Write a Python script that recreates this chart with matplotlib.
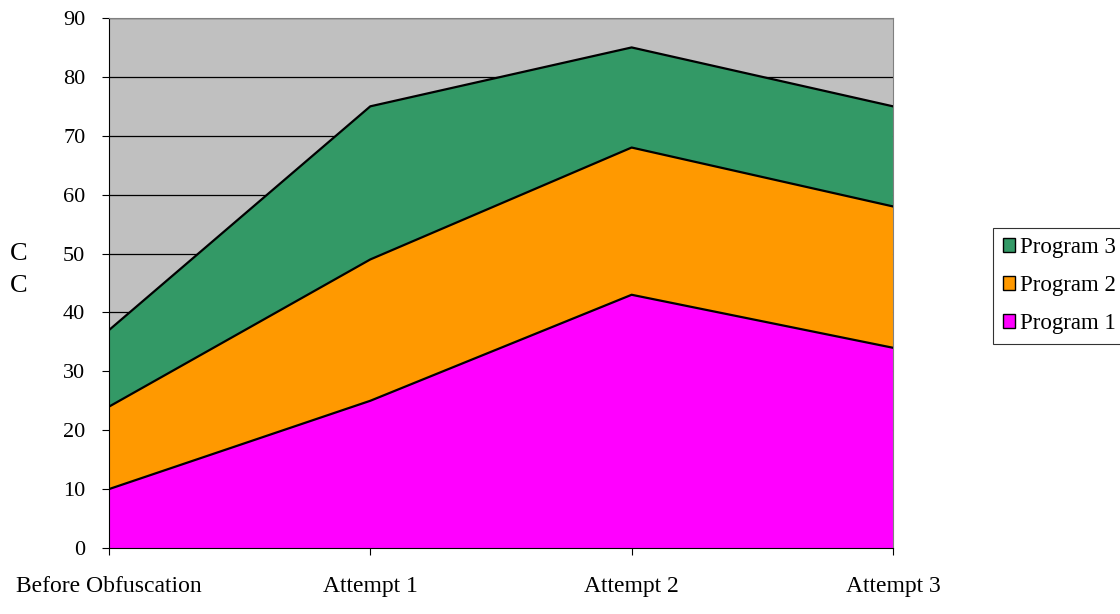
import matplotlib.pyplot as plt
from matplotlib.patches import Patch

# Datos
etapas = ['Before Obfuscation', 'Attempt 1', 'Attempt 2', 'Attempt 3']
programa_1 = [10, 25, 43, 34]
programa_2 = [14, 24, 25, 24]
programa_3 = [13, 26, 17, 17]
colores = ['#FF00FF', '#FF9900', '#339966']
nombres = ['Program 1', 'Program 2', 'Program 3']

plt.rcParams['font.family'] = 'Liberation Serif'

fig = plt.figure(figsize=(11.2, 6.14), dpi=100)
ax = fig.add_axes([0.0973, 0.1075, 0.7, 0.8632])

x = list(range(len(etapas)))
ax.set_facecolor('#C0C0C0')
capas = ax.stackplot(x, programa_1, programa_2, programa_3, colors=colores,
                     edgecolor='none', zorder=2)

# bordes superiores de cada capa
acum = [0] * len(x)
for serie in (programa_1, programa_2, programa_3):
    acum = [a + b for a, b in zip(acum, serie)]
    ax.plot(x, acum, color='black', lw=1.6, zorder=3)

ax.set_xlim(0, 3)
ax.set_ylim(0, 90)
ax.set_yticks(range(0, 91, 10))
ax.grid(axis='y', color='black', lw=0.9, zorder=1)
ax.set_axisbelow(True)
ax.set_xticks(x)
ax.set_xticklabels(etapas)
ax.tick_params(axis='both', direction='out', length=5, color='black')
ax.tick_params(axis='x', labelsize=17, pad=15)
ax.tick_params(axis='y', labelsize=16, pad=12)
for s in ['top', 'right']:
    ax.spines[s].set_color('#808080')
ax.spines['left'].set_color('black')
ax.spines['bottom'].set_color('black')

# restos de la etiqueta del eje y
fig.text(0.009, 0.587, 'C', fontsize=19, va='center')
fig.text(0.009, 0.535, 'C', fontsize=19, va='center')

handles = [Patch(facecolor=colores[i], edgecolor='black', label=nombres[i]) for i in (2, 1, 0)]
leg = fig.legend(handles=handles, loc='upper left', bbox_to_anchor=(0.887, 0.629),
                 fontsize=16.5, frameon=True, fancybox=False, edgecolor='black',
                 handlelength=0.55, handleheight=0.55, handletextpad=0.2,
                 labelspacing=0.75, borderpad=0.4, borderaxespad=0)
leg.get_frame().set_linewidth(0.8)

plt.savefig('out.png', dpi=100)
